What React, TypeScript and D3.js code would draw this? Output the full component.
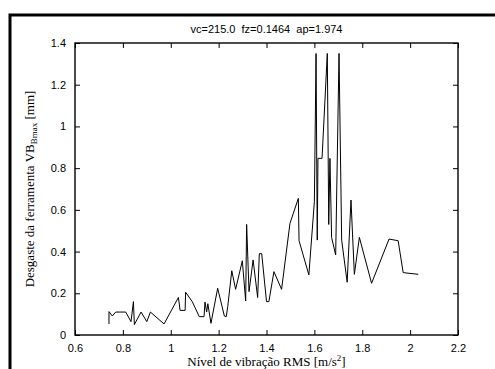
import { useEffect, useRef } from "react"
import * as d3 from "d3"

// vibration RMS level [m/s^2] vs tool wear VBBmax [mm]
const vibRms = [0.742, 0.742, 0.756, 0.77, 0.812, 0.834, 0.844, 0.848, 0.876, 0.9, 0.915, 0.972, 1.032, 1.039, 1.06, 1.062, 1.09, 1.119, 1.139, 1.143, 1.15, 1.155, 1.168, 1.196, 1.224, 1.232, 1.238, 1.255, 1.271, 1.299, 1.313, 1.317, 1.327, 1.344, 1.363, 1.37, 1.38, 1.4, 1.41, 1.431, 1.463, 1.498, 1.533, 1.536, 1.577, 1.6, 1.607, 1.612, 1.615, 1.632, 1.654, 1.66, 1.665, 1.672, 1.689, 1.703, 1.714, 1.737, 1.753, 1.767, 1.788, 1.839, 1.912, 1.95, 1.971, 2.034]
const wear = [0.053, 0.112, 0.091, 0.11, 0.11, 0.064, 0.16, 0.05, 0.11, 0.064, 0.11, 0.053, 0.18, 0.118, 0.118, 0.205, 0.16, 0.088, 0.088, 0.158, 0.11, 0.15, 0.056, 0.224, 0.091, 0.088, 0.136, 0.308, 0.219, 0.356, 0.163, 0.53, 0.208, 0.36, 0.18, 0.39, 0.39, 0.16, 0.16, 0.304, 0.219, 0.535, 0.655, 0.452, 0.288, 0.64, 1.35, 0.455, 0.847, 0.847, 1.35, 0.53, 0.847, 0.467, 0.384, 1.35, 0.455, 0.253, 0.647, 0.291, 0.468, 0.248, 0.46, 0.452, 0.299, 0.291]
const xTicks = [0.6, 0.8, 1, 1.2, 1.4, 1.6, 1.8, 2, 2.2]
const yTicks = [0, 0.2, 0.4, 0.6, 0.8, 1, 1.2, 1.4]
const title = "vc=215.0  fz=0.1464  ap=1.974"

export default function App() {
  const ref = useRef<SVGSVGElement>(null)
  useEffect(() => {
    if (!ref.current) return
    const m = { top: 43, right: 37, bottom: 34, left: 75 }
    const W = 495 - m.left - m.right
    const H = 369 - m.top - m.bottom
    const root = d3.select(ref.current)
    root.selectAll("*").remove()
    root.append("rect").attr("width", 495).attr("height", 369).attr("fill", "#fff")
    root.append("rect").attr("x", 10).attr("y", 15).attr("width", 600).attr("height", 600)
      .attr("fill", "none").attr("stroke", "#000").attr("stroke-width", 3)
    const svg = root.append("g").attr("transform", `translate(${m.left},${m.top})`)

    const x = d3.scaleLinear().domain([0.6, 2.2]).range([0, W])
    const y = d3.scaleLinear().domain([0, 1.4]).range([H, 0])
    const fmt = (d: d3.NumberValue) => String(+d)
    const style = (g: d3.Selection<SVGGElement, unknown, null, undefined>) => {
      g.select(".domain").remove()
      g.selectAll("line").style("stroke", "#000").style("stroke-width", 1)
      g.selectAll("text").style("fill", "#000").style("font-size", "11px").style("font-family", "'Liberation Sans', Arial, sans-serif")
    }
    svg.append("g").attr("transform", `translate(0,${H})`)
      .call(d3.axisBottom(x).tickValues(xTicks).tickFormat(fmt).tickSizeInner(-5).tickSizeOuter(0).tickPadding(9)).call(style)
    svg.append("g").call(d3.axisTop(x).tickValues(xTicks).tickFormat(() => "").tickSizeInner(-5).tickSizeOuter(0)).call(style)
    svg.append("g")
      .call(d3.axisLeft(y).tickValues(yTicks).tickFormat(fmt).tickSizeInner(-5).tickSizeOuter(0).tickPadding(9)).call(style)
    svg.append("g").attr("transform", `translate(${W},0)`)
      .call(d3.axisRight(y).tickValues(yTicks).tickFormat(() => "").tickSizeInner(-5).tickSizeOuter(0)).call(style)
    svg.append("rect").attr("width", W).attr("height", H).attr("fill", "none")
      .attr("stroke", "#000").attr("stroke-width", 1.4)

    const line = d3.line<number>().x((_, i) => x(vibRms[i])).y(d => y(d))
    svg.append("path").datum(wear).attr("d", line).attr("fill", "none")
      .attr("stroke", "#000").attr("stroke-width", 1).attr("stroke-linejoin", "miter")

    svg.append("text").attr("x", W / 2).attr("y", -10).attr("text-anchor", "middle")
      .style("white-space", "pre")
      .style("font-family", "'Liberation Sans', Arial, sans-serif").style("font-size", "11px").text(title)

    const serif = "'Liberation Serif', 'Times New Roman', serif"
    const xl = svg.append("text").attr("x", W / 2).attr("y", H + 31).attr("text-anchor", "middle")
      .style("font-family", serif).style("font-size", "13px")
    xl.append("tspan").text("Nível de vibração RMS [m/s")
    xl.append("tspan").attr("dy", -5).style("font-size", "9px").text("2")
    xl.append("tspan").attr("dy", 5).text("]")

    const yl = svg.append("text").attr("transform", `translate(-41,${H / 2}) rotate(-90)`).attr("text-anchor", "middle")
      .style("font-family", serif).style("font-size", "13px")
    yl.append("tspan").text("Desgaste da ferramenta VB")
    yl.append("tspan").attr("dy", 3).style("font-size", "9px").text("Bmax")
    yl.append("tspan").attr("dy", -3).text(" [mm]")
  }, [])
  return <svg ref={ref} width={495} height={369} style={{ position: "absolute", left: 0, top: 0, display: "block" }} />
}
